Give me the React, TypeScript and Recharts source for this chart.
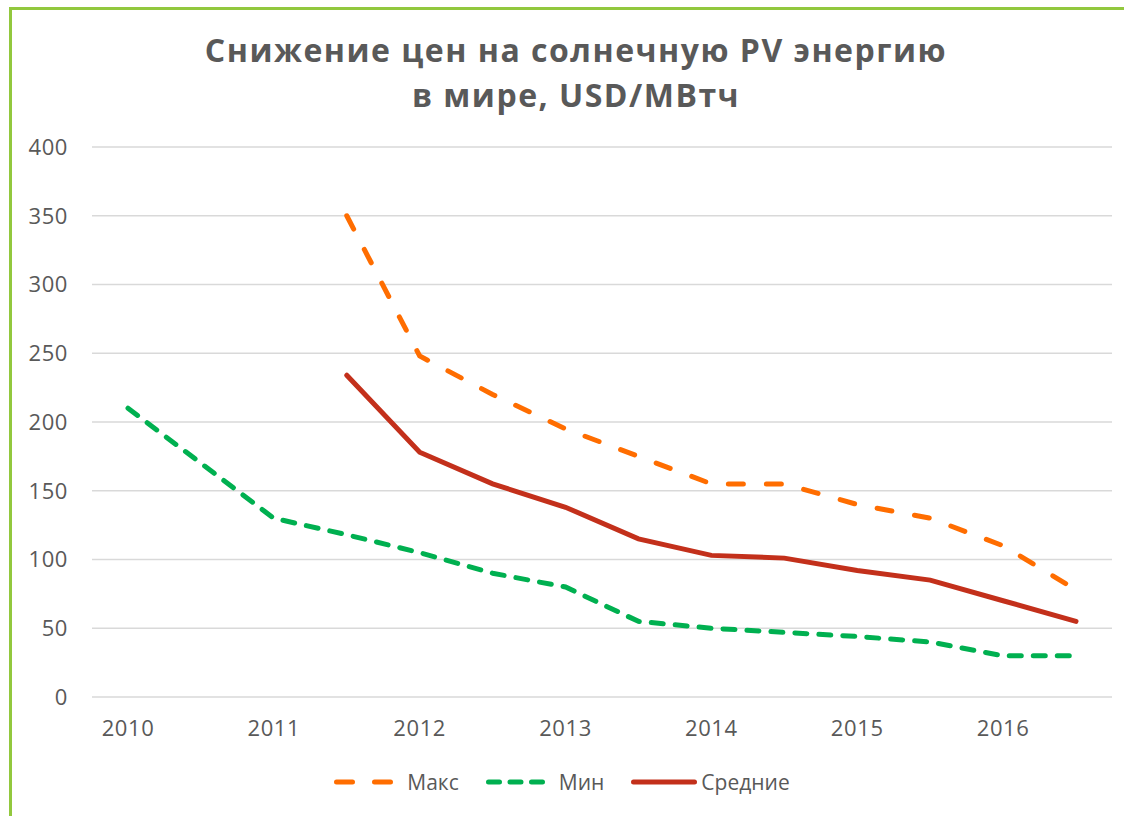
import React from 'react';
import { LineChart, Line, XAxis, YAxis, CartesianGrid, Legend } from 'recharts';

// half-year periods, only whole years get a label
const periods = [
  '2010', '2010.5', '2011', '2011.5', '2012', '2012.5', '2013',
  '2013.5', '2014', '2014.5', '2015', '2015.5', '2016', '2016.5',
];
const maxValues = [null, null, null, 350, 248, 220, 195, 175, 155, 155, 140, 130, 110, 78];
const minValues = [210, null, 130, 118, 105, 90, 80, 55, 50, 47, 44, 40, 30, 30];
const avgValues = [null, null, null, 234, 178, 155, 138, 115, 103, 101, 92, 85, 70, 55];
const yTicks = [0, 50, 100, 150, 200, 250, 300, 350, 400];

const series = [
  { key: 'max', name: 'Макс', color: '#FF6D00', dash: '15 23', legendDash: '16 22', legendW: 59, gap: 14, connect: false },
  { key: 'min', name: 'Мин', color: '#00B050', dash: '12 12', legendDash: '11 10.5', legendW: 59, gap: 14, connect: true },
  { key: 'avg', name: 'Средние', color: '#C3301B', dash: undefined, legendDash: undefined, legendW: 66, gap: 4, connect: false },
];

const data = periods.map((p, i) => ({
  period: p,
  max: maxValues[i],
  min: minValues[i],
  avg: avgValues[i],
}));

const FONT = '"Open Sans", "Noto Sans", sans-serif';
const TEXT = '#595959';

const LegendRow = () => (
  <div style={{ display: 'flex', justifyContent: 'center', alignItems: 'center', fontFamily: FONT, fontSize: 21, color: TEXT }}>
    {series.map((s, i) => (
      <div key={s.key} style={{ display: 'flex', alignItems: 'center', marginRight: i === series.length - 1 ? 0 : 27 }}>
        <svg width={s.legendW} height={10} style={{ marginRight: s.gap }}>
          <line
            x1={2.5}
            y1={5}
            x2={s.legendW - 2.5}
            y2={5}
            stroke={s.color}
            strokeWidth={5}
            strokeLinecap="round"
            strokeDasharray={s.legendDash}
          />
        </svg>
        <span>{s.name}</span>
      </div>
    ))}
  </div>
);

export default function App() {
  return (
    <div style={{ position: 'absolute', left: 0, top: 0, width: 1124, height: 816, background: '#fff', overflow: 'hidden' }}>
      <div
        style={{
          position: 'absolute',
          left: 9,
          top: 7,
          width: 1130,
          height: 830,
          border: '3px solid #92C83E',
          boxSizing: 'border-box',
        }}
      />
      <div
        style={{
          position: 'absolute',
          left: 0,
          top: 27,
          width: 1152,
          textAlign: 'center',
          fontFamily: FONT,
          fontWeight: 700,
          fontSize: 32,
          letterSpacing: 1.5,
          lineHeight: '45px',
          color: TEXT,
        }}
      >
        Снижение цен на солнечную PV энергию
        <br />в мире, USD/MВтч
      </div>
      <div style={{ position: 'absolute', left: 0, top: 0 }}>
        <LineChart width={1124} height={816} data={data} margin={{ top: 147, right: 12, bottom: 0, left: 0 }}>
          <CartesianGrid vertical={false} stroke="#D9D9D9" strokeWidth={1.5} />
          <XAxis
            dataKey="period"
            interval={0}
            padding={{ left: 36, right: 36 }}
            tickFormatter={(v: string) => (v.endsWith('.5') ? '' : v)}
            axisLine={false}
            tickLine={false}
            tickSize={0}
            tickMargin={23}
            height={119}
            tick={{ fill: TEXT, fontSize: 22, fontFamily: FONT, letterSpacing: 0.6 }}
          />
          <YAxis
            domain={[0, 400]}
            ticks={yTicks}
            axisLine={false}
            tickLine={false}
            tickSize={0}
            tickMargin={24}
            width={92}
            tick={{ fill: TEXT, fontSize: 22, fontFamily: FONT, letterSpacing: 0.6 }}
          />
          <Legend
            layout="vertical"
            align="center"
            verticalAlign="middle"
            wrapperStyle={{ left: 0, top: 768, width: 1124, height: 28 }}
            content={() => <LegendRow />}
          />
          {series.map((s) => (
            <Line
              key={s.key}
              type="linear"
              dataKey={s.key}
              name={s.name}
              stroke={s.color}
              strokeWidth={5}
              strokeDasharray={s.dash}
              strokeLinecap="round"
              dot={false}
              activeDot={false}
              connectNulls={s.connect}
              isAnimationActive={false}
            />
          ))}
        </LineChart>
      </div>
    </div>
  );
}
